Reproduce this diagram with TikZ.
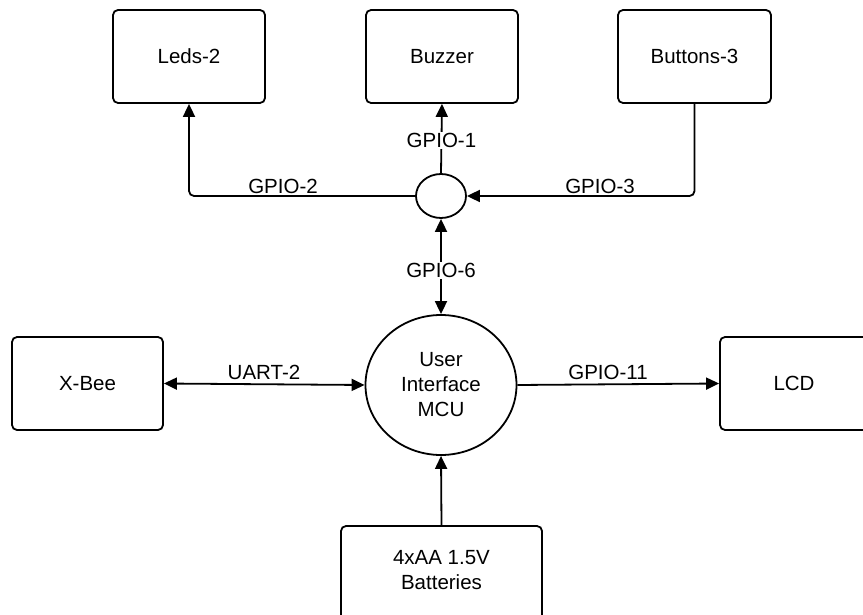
\documentclass[tikz,border=0pt]{standalone}
\usepackage{fontspec}
\setmainfont{Liberation Sans}
\usetikzlibrary{arrows.meta,shapes.geometric}
\begin{document}
\begin{tikzpicture}[x=1pt,y=-1pt,
  font=\fontsize{20.5}{25}\selectfont,
  box/.style={draw, line width=1.8pt, rounded corners=5pt, inner sep=0pt, align=center},
  hubshape/.style={draw, ellipse, line width=1.8pt, inner sep=0pt, align=center},
  conn/.style={line width=1.8pt},
  tip/.style={-{Triangle[length=13pt,width=12pt]}},
  both/.style={{Triangle[length=13pt,width=12pt]}-{Triangle[length=13pt,width=12pt]}},
  lbl/.style={inner sep=1pt},
  onlbl/.style={fill=white, inner sep=1pt}]
\useasboundingbox (0,0) rectangle (863,615);
\clip (0,0) rectangle (863,615);
% boxes
\node[box, minimum width=152pt, minimum height=93pt] (leds) at (189,56.5) {Leds-2};
\node[box, minimum width=152pt, minimum height=93pt] (buzzer) at (442,56.5) {Buzzer};
\node[box, minimum width=153pt, minimum height=93pt] (buttons) at (694.5,56.5) {Buttons-3};
\node[box, minimum width=151pt, minimum height=93pt] (xbee) at (87.5,383.5) {X-Bee};
\node[box, minimum width=148pt, minimum height=93pt] (lcd) at (794,383.5) {LCD};
\node[box, minimum width=201pt, minimum height=110pt] (batt) at (441.5,581) {};
\node[align=center, inner sep=0pt] (batttext) at (441.5,570) {4xAA 1.5V\\Batteries};
% hubs
\node[hubshape, minimum width=50pt, minimum height=44pt] (hub) at (441,196) {};
\node[hubshape, minimum width=151pt, minimum height=140pt] (mcu) at (441,385) {User\\Interface\\MCU};
% connectors
\draw[conn,tip] (hub.north) -- (buzzer.south) node[onlbl, pos=0.47] {GPIO-1};
\draw[conn,tip,rounded corners=5pt] (hub.west) -| (leds.south);
\node[lbl] (l2) at (283,186) {GPIO-2};
\draw[conn,tip,rounded corners=5pt] (buttons.south) |- (hub.east);
\node[lbl] (l3) at (600,186) {GPIO-3};
\draw[conn,both] (hub.south) -- (mcu.north) node[onlbl, pos=0.54] {GPIO-6};
\draw[conn,both] (xbee.east) -- (mcu.west);
\node[lbl] (lu) at (264,372) {UART-2};
\draw[conn,tip] (mcu.east) -- (lcd.west);
\node[lbl] (lg) at (608,372) {GPIO-11};
\draw[conn,tip] (batt.north) -- (mcu.south);
\end{tikzpicture}
\end{document}
